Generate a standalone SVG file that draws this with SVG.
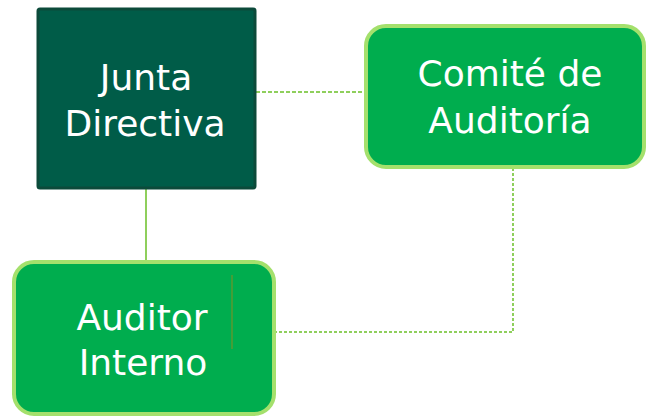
<svg xmlns="http://www.w3.org/2000/svg" width="648" height="417" viewBox="0 0 648 417">
<style>
.lbl{font-family:"DejaVu Sans","Liberation Sans",sans-serif;font-size:36px;fill:#ffffff;text-anchor:middle}
.green{fill:#00ad4e;stroke:#a4e06c;stroke-width:4}
.dark{fill:#005c48;stroke:#0c4a3a;stroke-width:3}
.conn{fill:none;stroke:#8fcf5c;stroke-width:2}
</style>
<rect width="648" height="417" fill="#ffffff"/>
<g id="connectors">
<line class="conn" x1="256" y1="92" x2="365" y2="92" stroke-dasharray="4 2"/>
<line class="conn" x1="146" y1="189" x2="146" y2="261" stroke="#7ab648"/>
<polyline class="conn" points="513,168 513,332 275,332" stroke-dasharray="3 2"/>
</g>
<g id="junta">
<rect class="dark" x="38" y="9" width="217" height="179" rx="2"/>
<text class="lbl" x="146" y="90">Junta</text>
<text class="lbl" x="145" y="136">Directiva</text>
</g>
<g id="comite">
<rect class="green" x="366" y="26" width="278" height="141" rx="20"/>
<text class="lbl" x="510" y="86">Comité de</text>
<text class="lbl" x="510" y="133">Auditoría</text>
</g>
<g id="auditor">
<rect class="green" x="14" y="262" width="260" height="152" rx="20"/>
<line x1="232" y1="275" x2="232" y2="349" stroke="#5a9a30" stroke-width="1.5"/>
<text class="lbl" x="142" y="330">Auditor</text>
<text class="lbl" x="143" y="375">Interno</text>
</g>
</svg>
